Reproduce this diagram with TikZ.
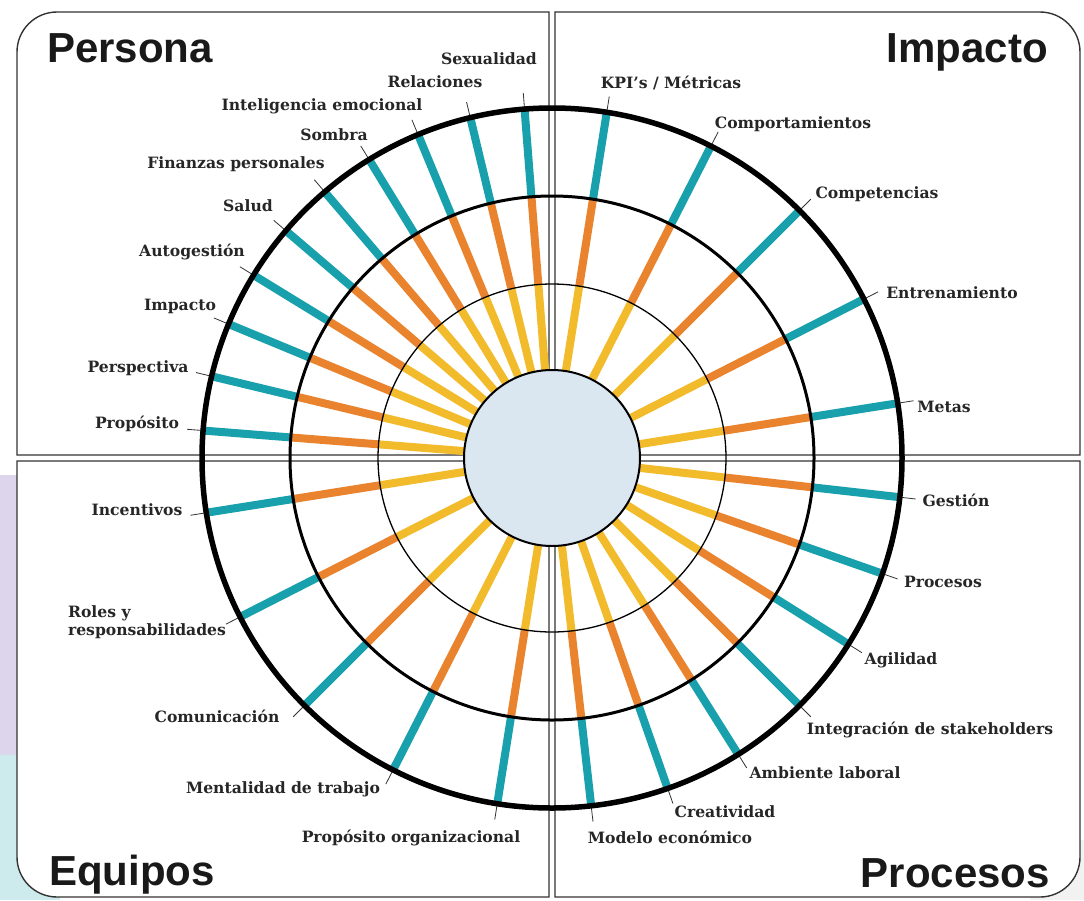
\documentclass[tikz,border=0pt]{standalone}
\usepackage{fontspec}
\setmainfont{DejaVu Serif}
\newfontfamily\titlefont{Liberation Sans}
\definecolor{spoketeal}{RGB}{24,160,172}
\definecolor{spokeorange}{RGB}{234,131,46}
\definecolor{spokeyellow}{RGB}{242,187,44}
\definecolor{hubblue}{RGB}{218,230,240}
\definecolor{bandlilac}{RGB}{221,213,235}
\definecolor{bandcyan}{RGB}{205,234,236}
\tikzset{
  quad/.style={draw=black!80, line width=1.4pt, fill=white},
  spoke/.style={line width=8pt},
  ticker/.style={line width=0.8pt, draw=black!80},
  lbl/.style={font=\fontsize{15.6}{18}\selectfont\bfseries, text=black!85, inner sep=0pt},
  ttl/.style={font=\titlefont\fontsize{42}{46}\selectfont\bfseries, text=black!90, inner sep=0pt}
}
\begin{document}
\begin{tikzpicture}[x=1pt,y=1pt]
  \useasboundingbox (0,0) rectangle (1084,-900);
  \fill[bandlilac] (0,-475) rectangle (40,-755);
  \fill[bandcyan] (0,-755) rectangle (60,-900);
  \fill[black!5] (1030,-840) rectangle (1084,-900);
  % four quadrants
  \draw[quad] (549,-455) -- (549,-12) -- (57,-12) arc[start angle=90,end angle=180,radius=40] -- (17,-455) -- cycle;
  \draw[quad] (555,-455) -- (555,-12) -- (1040,-12) arc[start angle=90,end angle=0,radius=40] -- (1080,-455) -- cycle;
  \draw[quad] (549,-461) -- (17,-461) -- (17,-857) arc[start angle=180,end angle=270,radius=40] -- (549,-897) -- cycle;
  \draw[quad] (555,-461) -- (1080,-461) -- (1080,-857) arc[start angle=0,end angle=-90,radius=40] -- (555,-897) -- cycle;
  \node[ttl, anchor=base west] (persona) at (47,-62) {Persona};
  \node[ttl, anchor=base east] (impacto) at (1048,-62) {Impacto};
  \node[ttl, anchor=base west] (equipos) at (49,-885) {Equipos};
  \node[ttl, anchor=base east] (procesos) at (1050,-887) {Procesos};
  % wheel
  \begin{scope}[shift={(552,-458)}]
    \foreach \a [count=\i] in {94.5,103.5,...,175.5,9,27,...,81,-6.43,-19.29,-32.14,-45,-57.86,-70.71,-83.57,189,207,...,261}{
      \draw[spoke,spokeyellow] (\a:87) -- (\a:174);
      \draw[spoke,spokeorange] (\a:174) -- (\a:262);
      \draw[spoke,spoketeal] (\a:262) -- (\a:350);
      \coordinate (rim\i) at (\a:351);
      \coordinate (tip\i) at (\a:366);
      \draw[ticker] (rim\i) -- (tip\i);
    }
    \draw[line width=1.3pt] (0,0) circle (174);
    \draw[line width=3pt] (0,0) circle (262);
    \draw[line width=5.5pt] (0,0) circle (350);
    \filldraw[fill=hubblue, line width=2pt] (0,0) circle (88) node (hub) {};
  \end{scope}
  % labels
  \foreach \x/\y/\t [count=\i] in {489/59/Sexualidad, 435/82/Relaciones, 322/106/Inteligencia emocional,
    334/135/Sombra, 236/164/Finanzas personales, 248/206/Salud, 192/252/Autogestión, 180/306/Impacto,
    138/368/Perspectiva, 137/424/Propósito, 671/83/{KPI’s / Métricas}, 793/124/Comportamientos,
    877/194/Competencias, 952/293/Entrenamiento, 944/407/Metas, 956/500/Gestión, 943/582/Procesos,
    901/660/Agilidad, 930/730/Integración de stakeholders, 825/773/Ambiente laboral, 725/812/Creatividad,
    670/837/Modelo económico, 137/510/Incentivos, 147/622/{Roles y\\responsabilidades},
    217/716/Comunicación, 283/789/Mentalidad de trabajo, 411/838/Propósito organizacional}
    \node[lbl, align=left] (lab\i) at (\x,-\y) {\t};
\end{tikzpicture}
\end{document}
